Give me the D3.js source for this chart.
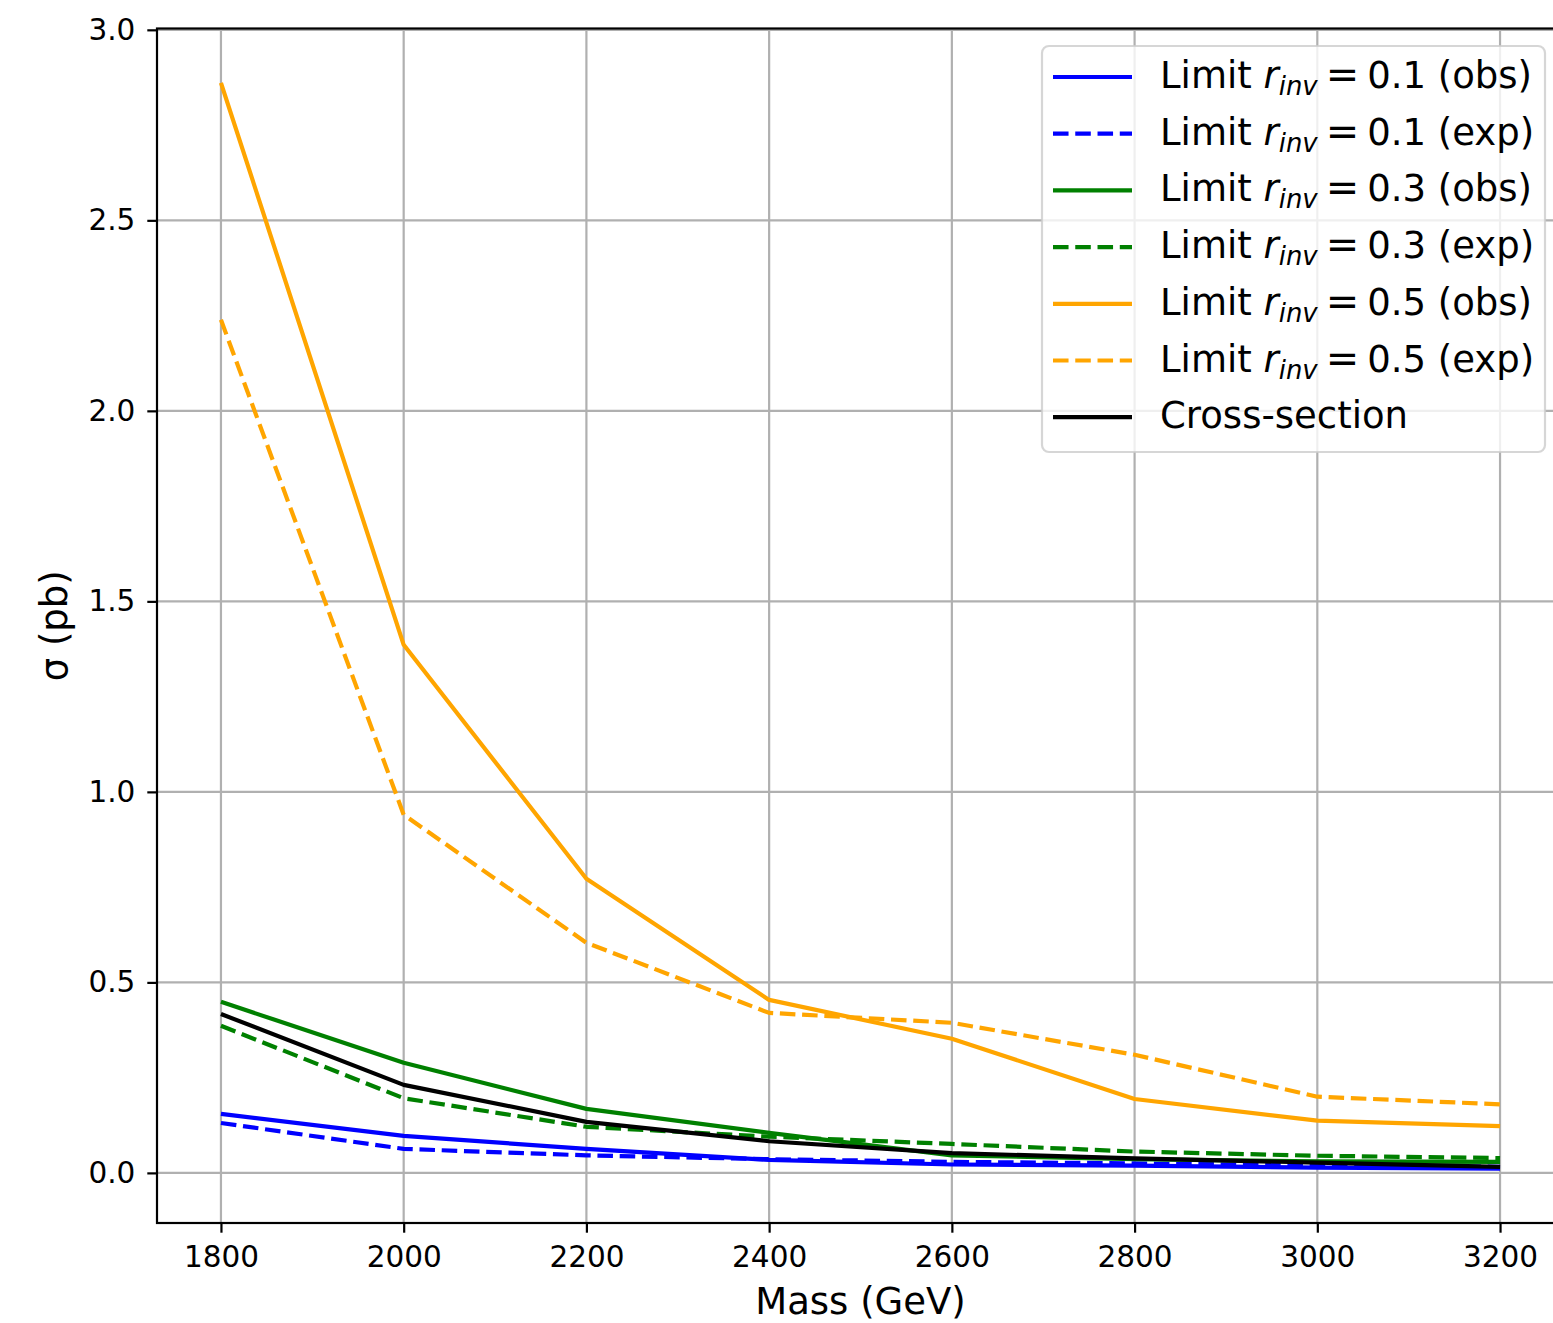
<!DOCTYPE html>
<html>
<head>
<meta charset="utf-8">
<script src="https://cdn.jsdelivr.net/npm/d3@7"></script>
<style>
  body { margin: 0; background: white; }
  svg { display: block; font-family: "DejaVu Sans", sans-serif; }
</style>
</head>
<body>
<div id="chart"></div>
<script>
const masses = [1800, 2000, 2200, 2400, 2600, 2800, 3000, 3200];
const obs01 = [0.155, 0.097, 0.063, 0.034, 0.022, 0.019, 0.014, 0.011];
const exp01 = [0.131, 0.063, 0.046, 0.036, 0.029, 0.025, 0.020, 0.016];
const obs03 = [0.449, 0.289, 0.168, 0.105, 0.046, 0.036, 0.030, 0.029];
const exp03 = [0.386, 0.196, 0.121, 0.095, 0.076, 0.056, 0.045, 0.039];
const obs05 = [2.861, 1.386, 0.772, 0.454, 0.352, 0.194, 0.137, 0.123];
const exp05 = [2.239, 0.940, 0.604, 0.420, 0.394, 0.310, 0.200, 0.180];
const xsec = [0.417, 0.231, 0.134, 0.083, 0.052, 0.038, 0.027, 0.016];

const xTicks = [1800, 2000, 2200, 2400, 2600, 2800, 3000, 3200];
const yTicks = [0.0, 0.5, 1.0, 1.5, 2.0, 2.5, 3.0];

const series = [
  { rinv: "0.1", kind: "obs", values: obs01, color: "blue", dashed: false },
  { rinv: "0.1", kind: "exp", values: exp01, color: "blue", dashed: true },
  { rinv: "0.3", kind: "obs", values: obs03, color: "green", dashed: false },
  { rinv: "0.3", kind: "exp", values: exp03, color: "green", dashed: true },
  { rinv: "0.5", kind: "obs", values: obs05, color: "orange", dashed: false },
  { rinv: "0.5", kind: "exp", values: exp05, color: "orange", dashed: true },
  { label: "Cross-section", values: xsec, color: "black", dashed: false },
];

const width = 1553;
const height = 1323;
const plot = { left: 157, right: 1564, top: 28.5, bottom: 1223 };
const lw = 4.2;
const dash = `${3.7 * lw},${1.6 * lw}`;

const svg = d3
  .select("#chart")
  .append("svg")
  .attr("width", width)
  .attr("height", height);

// matplotlib-style 5% margins
const xPad = (d3.max(masses) - d3.min(masses)) * 0.05;
const allY = series.flatMap((s) => s.values);
const yMin = d3.min(allY);
const yMax = d3.max(allY);
const yPad = (yMax - yMin) * 0.05;

const x = d3
  .scaleLinear()
  .domain([d3.min(masses) - xPad, d3.max(masses) + xPad])
  .range([plot.left, plot.right]);
const y = d3
  .scaleLinear()
  .domain([yMin - yPad, yMax + yPad])
  .range([plot.bottom, plot.top]);

// grid
const grid = svg.append("g").attr("stroke", "#b0b0b0").attr("stroke-width", 2.2);
grid
  .selectAll("line.gx")
  .data(xTicks)
  .join("line")
  .attr("x1", (d) => x(d))
  .attr("x2", (d) => x(d))
  .attr("y1", plot.top)
  .attr("y2", plot.bottom);
grid
  .selectAll("line.gy")
  .data(yTicks)
  .join("line")
  .attr("class", "gy")
  .attr("x1", plot.left)
  .attr("x2", plot.right)
  .attr("y1", (d) => y(d))
  .attr("y2", (d) => y(d));

// lines
const line = d3
  .line()
  .x((d, i) => x(masses[i]))
  .y((d) => y(d));

svg
  .append("g")
  .selectAll("path")
  .data(series)
  .join("path")
  .attr("fill", "none")
  .attr("stroke", (d) => d.color)
  .attr("stroke-width", lw)
  .attr("stroke-linejoin", "round")
  .attr("stroke-dasharray", (d) => (d.dashed ? dash : null))
  .attr("d", (d) => line(d.values));

// axes
const xAxis = svg
  .append("g")
  .attr("transform", `translate(0,${plot.bottom})`)
  .call(d3.axisBottom(x).tickValues(xTicks).tickSize(9.7).tickPadding(13).tickFormat(d3.format("d")));
const yAxis = svg
  .append("g")
  .attr("transform", `translate(${plot.left},0)`)
  .call(d3.axisLeft(y).tickValues(yTicks).tickSize(9.7).tickPadding(12).tickFormat(d3.format(".1f")));

[xAxis, yAxis].forEach((a) => {
  a.select(".domain").remove();
  a.selectAll(".tick line").attr("stroke", "black").attr("stroke-width", 2.2);
  a.selectAll(".tick text")
    .attr("fill", "black")
    .style("font-family", "DejaVu Sans")
    .style("font-size", "29.5px");
});

// spines
svg
  .append("rect")
  .attr("x", plot.left)
  .attr("y", plot.top)
  .attr("width", plot.right - plot.left)
  .attr("height", plot.bottom - plot.top)
  .attr("fill", "none")
  .attr("stroke", "black")
  .attr("stroke-width", 2.2);

// axis labels
svg
  .append("text")
  .attr("x", (plot.left + plot.right) / 2)
  .attr("y", 1314)
  .attr("text-anchor", "middle")
  .style("font-size", "37px")
  .text("Mass (GeV)");

svg
  .append("text")
  .attr("transform", `translate(67,${(plot.top + plot.bottom) / 2}) rotate(-90)`)
  .attr("text-anchor", "middle")
  .style("font-size", "37px")
  .text("σ (pb)");

// legend
const leg = { x: 1042, y: 46, w: 503, h: 406, rowY0: 77, rowStep: 56.7 };
const legend = svg.append("g");
legend
  .append("rect")
  .attr("x", leg.x)
  .attr("y", leg.y)
  .attr("width", leg.w)
  .attr("height", leg.h)
  .attr("rx", 7)
  .attr("fill", "white")
  .attr("fill-opacity", 0.8)
  .attr("stroke", "#cccccc")
  .attr("stroke-opacity", 0.8)
  .attr("stroke-width", 2.2);

const rows = legend
  .selectAll("g.row")
  .data(series)
  .join("g")
  .attr("class", "row")
  .attr("transform", (d, i) => `translate(0,${leg.rowY0 + i * leg.rowStep})`);

rows
  .append("line")
  .attr("x1", 1053)
  .attr("x2", 1132)
  .attr("stroke", (d) => d.color)
  .attr("stroke-width", lw)
  .attr("stroke-dasharray", (d) => (d.dashed ? dash : null));

const fs = 37;
const labels = rows
  .append("text")
  .attr("x", 1160)
  .attr("y", 11)
  .style("font-size", `${fs}px`)
  .attr("fill", "black");

labels.each(function (d) {
  const t = d3.select(this);
  if (d.label) {
    t.text(d.label);
    return;
  }
  t.append("tspan").text("Limit ");
  t.append("tspan").attr("font-style", "italic").text("r");
  t.append("tspan")
    .attr("font-style", "italic")
    .attr("dy", 7)
    .style("font-size", `${fs * 0.7}px`)
    .text("inv");
  t.append("tspan").attr("dy", -7).attr("dx", 8).style("font-size", `${fs * 1.08}px`).text("=");
  t.append("tspan").attr("dx", 8).text(`${d.rinv} (${d.kind})`);
});
</script>
</body>
</html>
